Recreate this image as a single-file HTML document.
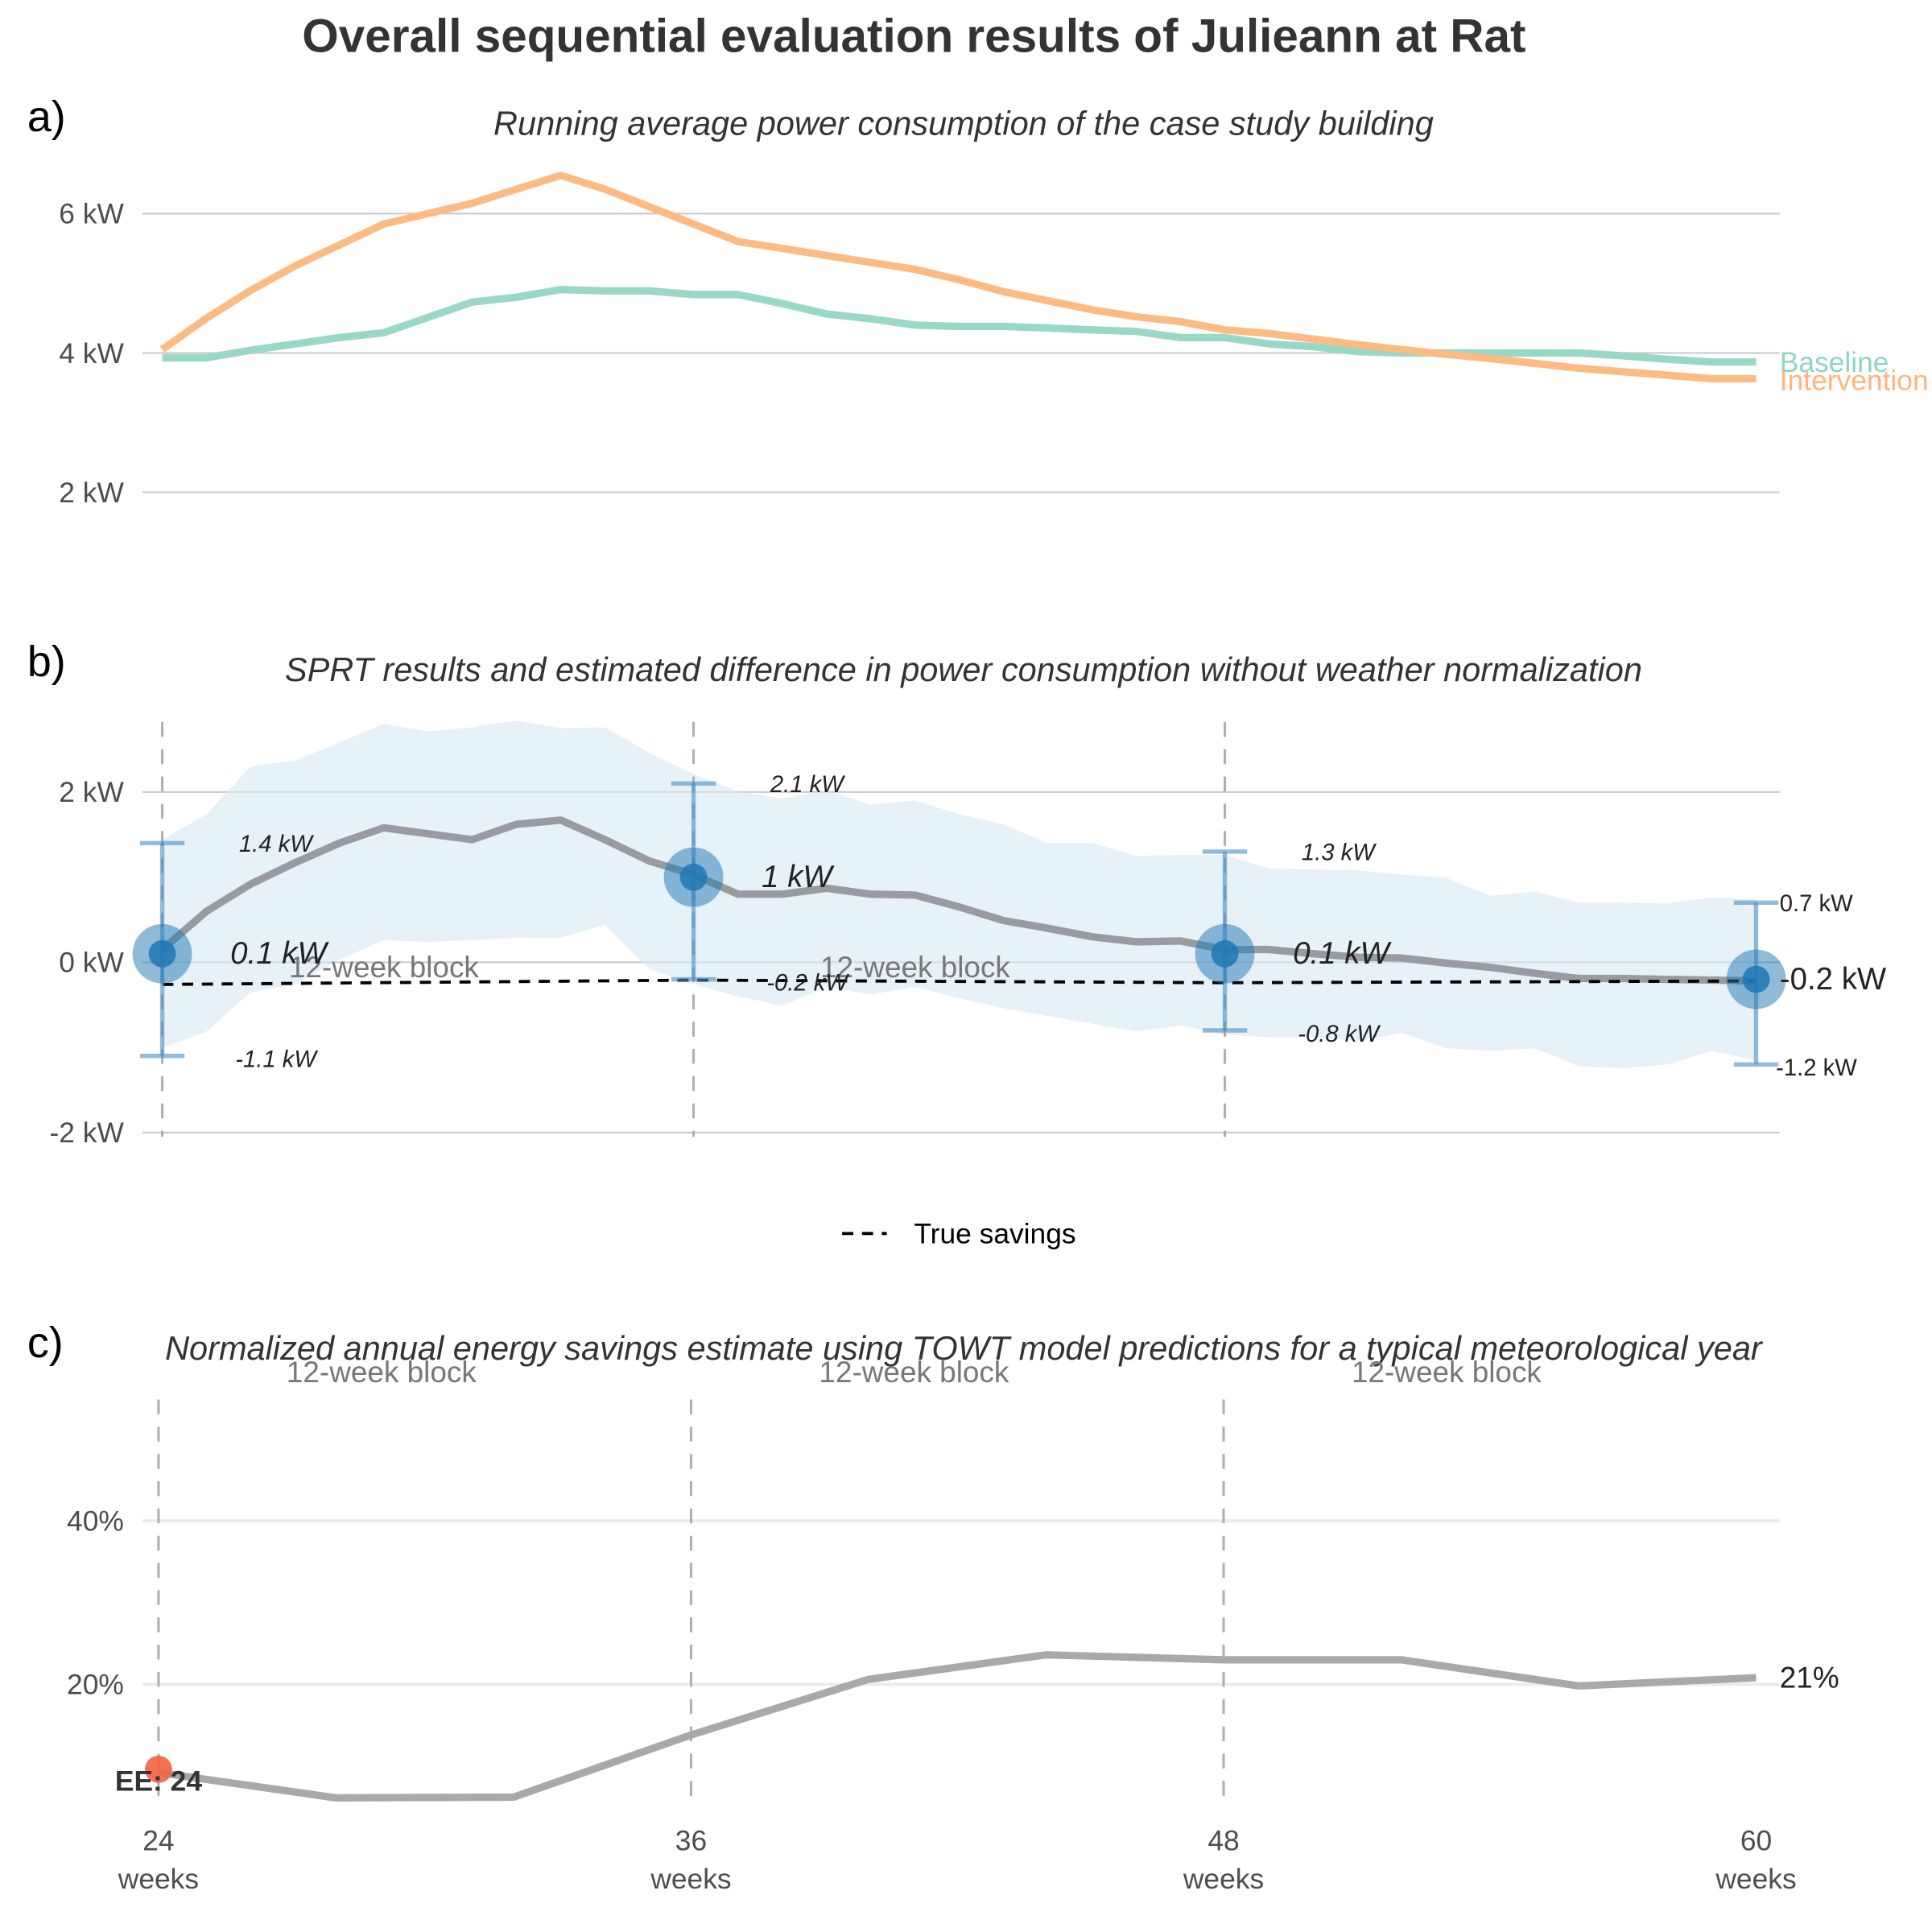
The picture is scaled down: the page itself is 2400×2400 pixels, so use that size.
<!DOCTYPE html>
<html><head><meta charset="utf-8"><style>
html,body{margin:0;padding:0;background:#fff}
svg{display:block;font-family:"Liberation Sans",Arial,sans-serif}
</style></head><body>
<svg id="chart" width="2400" height="2400" viewBox="0 0 1560 1560" xmlns="http://www.w3.org/2000/svg">
<text x="738" y="42" text-anchor="middle" font-size="38" font-weight="bold" fill="#333">Overall sequential evaluation results of Julieann at Rat</text>
<text x="22" y="106" font-size="35" fill="#000">a)</text>
<text x="778" y="109" text-anchor="middle" font-size="27" font-style="italic" fill="#333">Running average power consumption of the case study building</text>
<text x="22" y="546" font-size="35" fill="#000">b)</text>
<text x="778" y="550" text-anchor="middle" font-size="27" font-style="italic" fill="#333">SPRT results and estimated difference in power consumption without weather normalization</text>
<text x="22" y="1096" font-size="35" fill="#000">c)</text>
<text x="778" y="1098" text-anchor="middle" font-size="27" font-style="italic" fill="#333">Normalized annual energy savings estimate using TOWT model predictions for a typical meteorological year</text>
<g id="pa"></g>
<g id="pb"></g>
<g id="pc"></g>
<g>
<line x1="680" y1="996" x2="716" y2="996" stroke="#000" stroke-width="2.5" stroke-dasharray="9,7"/>
<text x="738" y="1004" font-size="23" fill="#000">True savings</text>
</g>
</svg>
<script>
const weeksA = [24,25,26,27,28,29,30,31,32,33,34,35,36,37,38,39,40,41,42,43,44,45,46,47,48,49,50,51,52,53,54,55,56,57,58,59,60];
const baselineKW = [3.93,3.93,4.04,4.13,4.22,4.29,4.51,4.73,4.8,4.91,4.89,4.89,4.84,4.84,4.71,4.56,4.49,4.4,4.38,4.38,4.36,4.33,4.31,4.22,4.22,4.13,4.09,4.02,4.0,4.0,4.0,4.0,4.0,3.96,3.91,3.87,3.87];
const interventionKW = [4.05,4.5,4.9,5.25,5.55,5.85,6.0,6.15,6.35,6.55,6.35,6.1,5.85,5.6,5.5,5.4,5.3,5.2,5.05,4.88,4.75,4.62,4.52,4.45,4.33,4.28,4.2,4.12,4.05,3.98,3.92,3.85,3.78,3.73,3.68,3.63,3.63];
const ticksA = [2,4,6];
const diffKW = [0.15,0.6,0.92,1.17,1.4,1.58,1.51,1.44,1.62,1.67,1.44,1.19,1.03,0.8,0.8,0.87,0.8,0.79,0.65,0.49,0.4,0.3,0.24,0.25,0.15,0.15,0.1,0.06,0.05,-0.01,-0.06,-0.13,-0.19,-0.19,-0.2,-0.21,-0.22];
const bandUpper = [1.44,1.74,2.3,2.37,2.58,2.8,2.71,2.76,2.84,2.75,2.76,2.46,2.21,2.01,1.92,2.02,1.85,1.9,1.74,1.62,1.4,1.4,1.25,1.26,1.26,1.1,1.09,1.08,1.03,0.99,0.78,0.83,0.7,0.7,0.69,0.76,0.74];
const bandLower = [-1.01,-0.81,-0.35,-0.26,0.03,0.26,0.24,0.26,0.29,0.29,0.44,-0.08,-0.26,-0.4,-0.51,-0.29,-0.38,-0.29,-0.42,-0.54,-0.63,-0.72,-0.81,-0.74,-0.85,-0.88,-0.88,-0.92,-0.83,-1.01,-1.04,-1.01,-1.22,-1.24,-1.2,-1.04,-1.15];
const checkWeeks = [24,36,48,60];
const checkEst = [0.1,1.0,0.1,-0.2];
const checkUpper = [1.4,2.1,1.3,0.7];
const checkLower = [-1.1,-0.2,-0.8,-1.2];
const trueSavings = [-0.26,-0.21,-0.24,-0.22];
const ticksB = [-2,0,2];
const weeksC = [24,28,32,36,40,44,48,52,56,60];
const savingsPct = [9.2,6.1,6.2,13.8,20.6,23.6,23.0,23.0,19.8,20.8];
const ticksC = [20,40];
const xTicksC = [24,36,48,60];

const NS="http://www.w3.org/2000/svg";
function mk(parent,tag,attrs,text){const e=document.createElementNS(NS,tag);for(const k in attrs)e.setAttribute(k,attrs[k]);if(text!==undefined)e.textContent=text;parent.appendChild(e);return e;}
const xB = w => 131 + (w-24)*(1418-131)/36;
const xC = w => 128 + (w-24)*(1418-128)/36;
const yA = v => 285 - (v-4)*56.25;
const yB = v => 777 - v*68.75;
const yC = p => 1360 - (p-20)*6.6;
const pts=(xs,ys,fx,fy)=>xs.map((x,i)=>fx(x).toFixed(1)+","+fy(ys[i]).toFixed(1)).join(" ");

// Panel A
const pa=document.getElementById('pa');
ticksA.forEach(t=>{
  let l=mk(pa,'line',{x1:115,x2:1437,y1:yA(t),y2:yA(t),stroke:'#c8c8c8','stroke-width':1.3});
  
  
  let tx=mk(pa,'text',{x:100,y:yA(t)+8,'text-anchor':'end','font-size':23,fill:'#4d4d4d'},t+' kW');
  
  
});
let lb=mk(pa,'polyline',{points:pts(weeksA,baselineKW,xB,yA),fill:'none',stroke:'#98d8c6','stroke-width':6,'stroke-linejoin':'round'});


let li=mk(pa,'polyline',{points:pts(weeksA,interventionKW,xB,yA),fill:'none',stroke:'#fdbb83','stroke-width':6,'stroke-linejoin':'round'});


let tb=mk(pa,'text',{x:1437,y:yA(baselineKW[baselineKW.length-1])+8,'font-size':23,fill:'#8fd6c2'},'Baseline');


let ti=mk(pa,'text',{x:1437,y:yA(interventionKW[interventionKW.length-1])+9,'font-size':23,fill:'#fdb57a'},'Intervention');



// Panel B
const pb=document.getElementById('pb');
ticksB.forEach(t=>{
  let l=mk(pb,'line',{x1:115,x2:1437,y1:yB(t),y2:yB(t),stroke:'#c8c8c8','stroke-width':1.3});
  
  
  let tx=mk(pb,'text',{x:100,y:yB(t)+8,'text-anchor':'end','font-size':23,fill:'#4d4d4d'},t+' kW');
  
  
});
const bandPts = weeksA.map((w,i)=>xB(w).toFixed(1)+","+yB(bandUpper[i]).toFixed(1)).concat(weeksA.slice().reverse().map((w,j)=>{const i=weeksA.length-1-j;return xB(w).toFixed(1)+","+yB(bandLower[i]).toFixed(1);})).join(" ");
let band=mk(pb,'polygon',{points:bandPts,fill:'#d6e7f3','fill-opacity':0.6});


checkWeeks.slice(0,3).forEach((w,i)=>{
  let v=mk(pb,'line',{x1:xB(w),x2:xB(w),y1:583,y2:918,stroke:'#b0b0b0','stroke-width':2,'stroke-dasharray':'12,10'});
  
  
});
[24,36].forEach(w=>{
  let t=mk(pb,'text',{x:xB(w)+179,y:789,'text-anchor':'middle','font-size':24,fill:'#777'},'12-week block');
  
  
});
let est=mk(pb,'polyline',{points:pts(weeksA,diffKW,xB,yB),fill:'none',stroke:'#999c9e','stroke-width':6,'stroke-linejoin':'round'});


let ts=mk(pb,'polyline',{points:pts(checkWeeks,trueSavings,xB,yB),fill:'none',stroke:'#000','stroke-width':2.5,'stroke-dasharray':'9,7'});


checkWeeks.forEach((w,i)=>{
  const x=xB(w), last=i===3;
  let eb=mk(pb,'g',{stroke:'#4a90c8','stroke-opacity':0.6,'stroke-width':3.5});
  
  
  mk(eb,'line',{x1:x,x2:x,y1:yB(checkUpper[i]),y2:yB(checkLower[i])});
  mk(eb,'line',{x1:x-18,x2:x+18,y1:yB(checkUpper[i]),y2:yB(checkUpper[i])});
  mk(eb,'line',{x1:x-18,x2:x+18,y1:yB(checkLower[i]),y2:yB(checkLower[i])});
  let c=mk(pb,'circle',{cx:x,cy:yB(checkEst[i]),r:24,fill:'#1f77b4','fill-opacity':0.5});
  
  
  let d=mk(pb,'circle',{cx:x,cy:yB(checkEst[i]),r:11,fill:'#1f77b4','fill-opacity':0.85});
  
  
  const fmt=v=>(Math.round(v*10)/10)+' kW';
  const lx = last ? x+19 : x+62;
  const st = last ? 'normal':'italic';
  let tu=mk(pb,'text',{x:lx,y:yB(checkUpper[i])+7,'font-size':19,'font-style':st,fill:'#222'},fmt(checkUpper[i]));
  
  
  let te=mk(pb,'text',{x:last?x+19:x+55,y:yB(checkEst[i])+8,'font-size':25,'font-style':st,fill:'#222'},fmt(checkEst[i]));
  
  
  let tl=mk(pb,'text',{x:lx-3,y:yB(checkLower[i])+9,'font-size':19,'font-style':st,fill:'#222'},fmt(checkLower[i]));
  
  
});

// Panel C
const pc=document.getElementById('pc');
ticksC.forEach(t=>{
  let l=mk(pc,'line',{x1:115,x2:1437,y1:yC(t),y2:yC(t),stroke:'#ebebeb','stroke-width':2.5});
  
  
  let tx=mk(pc,'text',{x:100,y:yC(t)+8,'text-anchor':'end','font-size':23,fill:'#4d4d4d'},t+'%');
  
  
});
checkWeeks.slice(0,3).forEach(w=>{
  let v=mk(pc,'line',{x1:xC(w),x2:xC(w),y1:1130,y2:1460,stroke:'#b0b0b0','stroke-width':2,'stroke-dasharray':'12,10'});
  
  
  let t=mk(pc,'text',{x:xC(w)+180,y:1116,'text-anchor':'middle','font-size':24,fill:'#777'},'12-week block');
  
  
});
let sl=mk(pc,'polyline',{points:pts(weeksC,savingsPct,xC,yC),fill:'none',stroke:'#a9a9a9','stroke-width':6,'stroke-linejoin':'round'});


let rp=mk(pc,'circle',{cx:xC(24),cy:yC(savingsPct[0]+0.4),r:11,fill:'#f4623e','fill-opacity':0.9});


let ee=mk(pc,'text',{x:xC(24),y:1446,'text-anchor':'middle','font-size':23,'font-weight':'bold',fill:'#333'},'EE: 24');


let fl=mk(pc,'text',{x:1437,y:yC(savingsPct[savingsPct.length-1])+8,'font-size':24,fill:'#222'},Math.round(savingsPct[savingsPct.length-1])+'%');


xTicksC.forEach(w=>{
  let t=mk(pc,'text',{x:xC(w),y:1494,'text-anchor':'middle','font-size':23,fill:'#4d4d4d'},String(w));
  
  
  let t2=mk(pc,'text',{x:xC(w),y:1525,'text-anchor':'middle','font-size':23,fill:'#4d4d4d'},'weeks');
  
  
});
</script>
</body></html>
